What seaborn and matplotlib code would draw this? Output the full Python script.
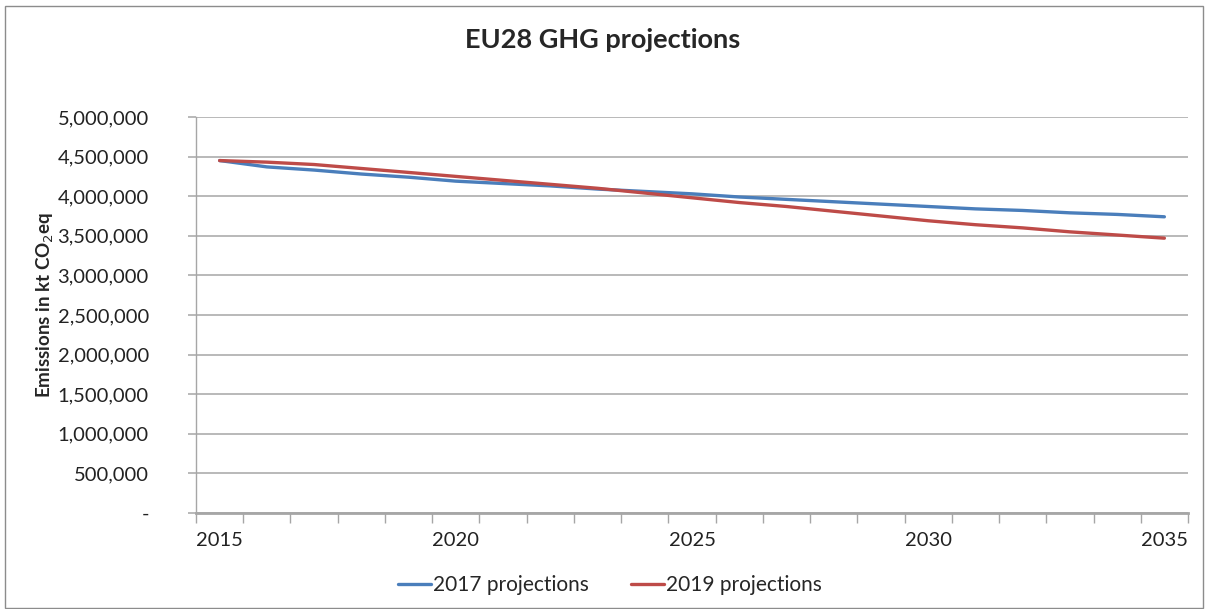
import numpy as np
import pandas as pd
import matplotlib
matplotlib.use("Agg")
import matplotlib.pyplot as plt
import seaborn as sns
from matplotlib.ticker import FuncFormatter, FixedLocator
from matplotlib.patches import Rectangle

years = list(range(2015, 2036))
proj_2017 = [4450000, 4370000, 4330000, 4280000, 4240000, 4190000, 4160000, 4130000,
             4090000, 4060000, 4030000, 3990000, 3960000, 3930000, 3900000, 3870000,
             3840000, 3820000, 3790000, 3770000, 3740000]
proj_2019 = [4450000, 4430000, 4400000, 4350000, 4300000, 4250000, 4200000, 4150000,
             4100000, 4040000, 3980000, 3920000, 3870000, 3810000, 3750000, 3690000,
             3640000, 3600000, 3550000, 3510000, 3470000]
series_names = ["2017 projections", "2019 projections"]
x_labels = [2015, 2020, 2025, 2030, 2035]

df = pd.DataFrame({
    "Year": years * 2,
    "Emissions": proj_2017 + proj_2019,
    "Series": [series_names[0]] * len(years) + [series_names[1]] * len(years),
})

sns.set_theme(style="white")
plt.rcParams["font.family"] = ["Lato", "DejaVu Sans"]

fig = plt.figure(figsize=(12.05, 6.09), dpi=100)
ax = fig.add_axes([196 / 1205, 1 - 513 / 609, (1188 - 196) / 1205, (513 - 117) / 609])

palette = {series_names[0]: "#4A7EBB", series_names[1]: "#BE4B48"}
sns.lineplot(data=df, x="Year", y="Emissions", hue="Series", palette=palette,
             linewidth=2.4, ax=ax, legend=True)

ax.set_xlim(2014.5, 2035.5)
ax.set_ylim(0, 5000000)
ax.set_yticks(np.arange(0, 5000001, 500000))
ax.yaxis.set_major_formatter(FuncFormatter(lambda v, p: "-" if v == 0 else f"{int(v):,}"))
ax.set_xticks(x_labels)
ax.set_xticklabels([str(v) for v in x_labels])
ax.xaxis.set_minor_locator(FixedLocator(np.arange(2014.5, 2035.6, 1.0)))
ax.grid(axis="y", color="#b3b3b3", linewidth=1.3)
ax.grid(axis="x", visible=False)

for s in ["top", "right"]:
    ax.spines[s].set_visible(False)
ax.spines["left"].set_color("#a6a6a6")
ax.spines["left"].set_linewidth(1.0)
ax.spines["bottom"].set_color("#a6a6a6")
ax.spines["bottom"].set_linewidth(2.0)

ax.tick_params(axis="y", which="major", length=6, width=1.3, color="#b3b3b3",
               labelsize=14.5, labelcolor="#222222", pad=28, left=True)
ax.tick_params(axis="x", which="major", length=0, labelsize=14.5, labelcolor="#222222", pad=14)
ax.tick_params(axis="x", which="minor", length=7, width=1, color="#a6a6a6", bottom=True, direction="out")

ax.set_xlabel("")
ax.set_ylabel("Emissions in kt CO$_2$eq", fontsize=13.5, fontweight="bold", labelpad=10)
ax.yaxis.set_label_coords(56 / 1205, 0.5, transform=fig.transFigure)

fig.text(0.5, 1 - 40 / 609, "EU28 GHG projections", ha="center", va="center",
         fontsize=19.5, fontweight="bold")

handles, labels = ax.get_legend_handles_labels()
ax.legend(handles, labels, loc="center", bbox_to_anchor=(610 / 1205, (609 - 585) / 609),
          bbox_transform=fig.transFigure, ncol=2, frameon=False, fontsize=15,
          handlelength=1.6, handletextpad=0.1, columnspacing=2.0)

fig.patches.append(Rectangle((5 / 1205, 0.002), 1 - 7 / 1205, 1 - 7 / 609,
                             transform=fig.transFigure, fill=False,
                             edgecolor="#8c8c8c", linewidth=1.0))

fig.savefig("out.png", dpi=100, facecolor="white")
